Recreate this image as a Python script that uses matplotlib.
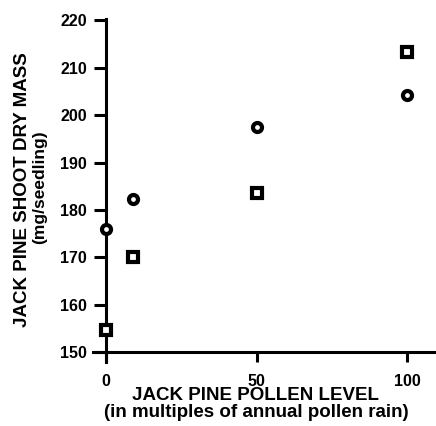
import matplotlib
matplotlib.use("Agg")
import matplotlib.pyplot as plt

# data
pollen = [0, 9, 50, 100]
mass_circle = [176, 182.3, 197.6, 204.2]
mass_square = [154.6, 170, 183.5, 213.3]
yticks = [150, 160, 170, 180, 190, 200, 210, 220]
xticks = [0, 50, 100]

plt.rcParams['font.family'] = ['Liberation Sans', 'DejaVu Sans']

fig = plt.figure(figsize=(4.36, 4.26), dpi=100)
ax = fig.add_axes([0.2133, 0.1502, 0.7867, 0.8052])

ax.plot(pollen, mass_circle, linestyle='none', marker='o', ms=6.5, mew=3,
        mfc='white', mec='black', clip_on=False, zorder=5)
ax.plot(pollen, mass_square, linestyle='none', marker='s', ms=6.5, mew=3,
        mfc='white', mec='black', clip_on=False, zorder=5)

ax.set_xlim(-4.3, 109.6)
ax.set_ylim(147.9, 220.3)

for s in ['top', 'right']:
    ax.spines[s].set_visible(False)
ax.spines['left'].set_position(('data', 0))
ax.spines['bottom'].set_position(('data', 150))
for s in ['left', 'bottom']:
    ax.spines[s].set_linewidth(2.2)

ax.set_yticks(yticks)
ax.set_xticks(xticks)
ax.tick_params(axis='y', direction='out', length=8.6, width=2.2, pad=5, labelsize=11.5)
ax.tick_params(axis='x', direction='out', length=7, width=2.2, pad=9, labelsize=11.5)
for lab in ax.get_xticklabels() + ax.get_yticklabels():
    lab.set_fontweight('bold')

# axis titles, two lines each
fig.text(0.586, 0.0610, 'JACK PINE POLLEN LEVEL', ha='center', va='baseline',
         fontsize=13.5, fontweight='bold')
fig.text(0.588, 0.0210, '(in multiples of annual pollen rain)', ha='center', va='baseline',
         fontsize=13.5, fontweight='bold')
fig.text(0.052, 0.554, 'JACK PINE SHOOT DRY MASS', ha='center', va='center',
         rotation=90, fontsize=13.5, fontweight='bold')
fig.text(0.0905, 0.561, '(mg/seedling)', ha='center', va='center',
         rotation=90, fontsize=12.5, fontweight='bold')

fig.savefig('out.png', dpi=100)
